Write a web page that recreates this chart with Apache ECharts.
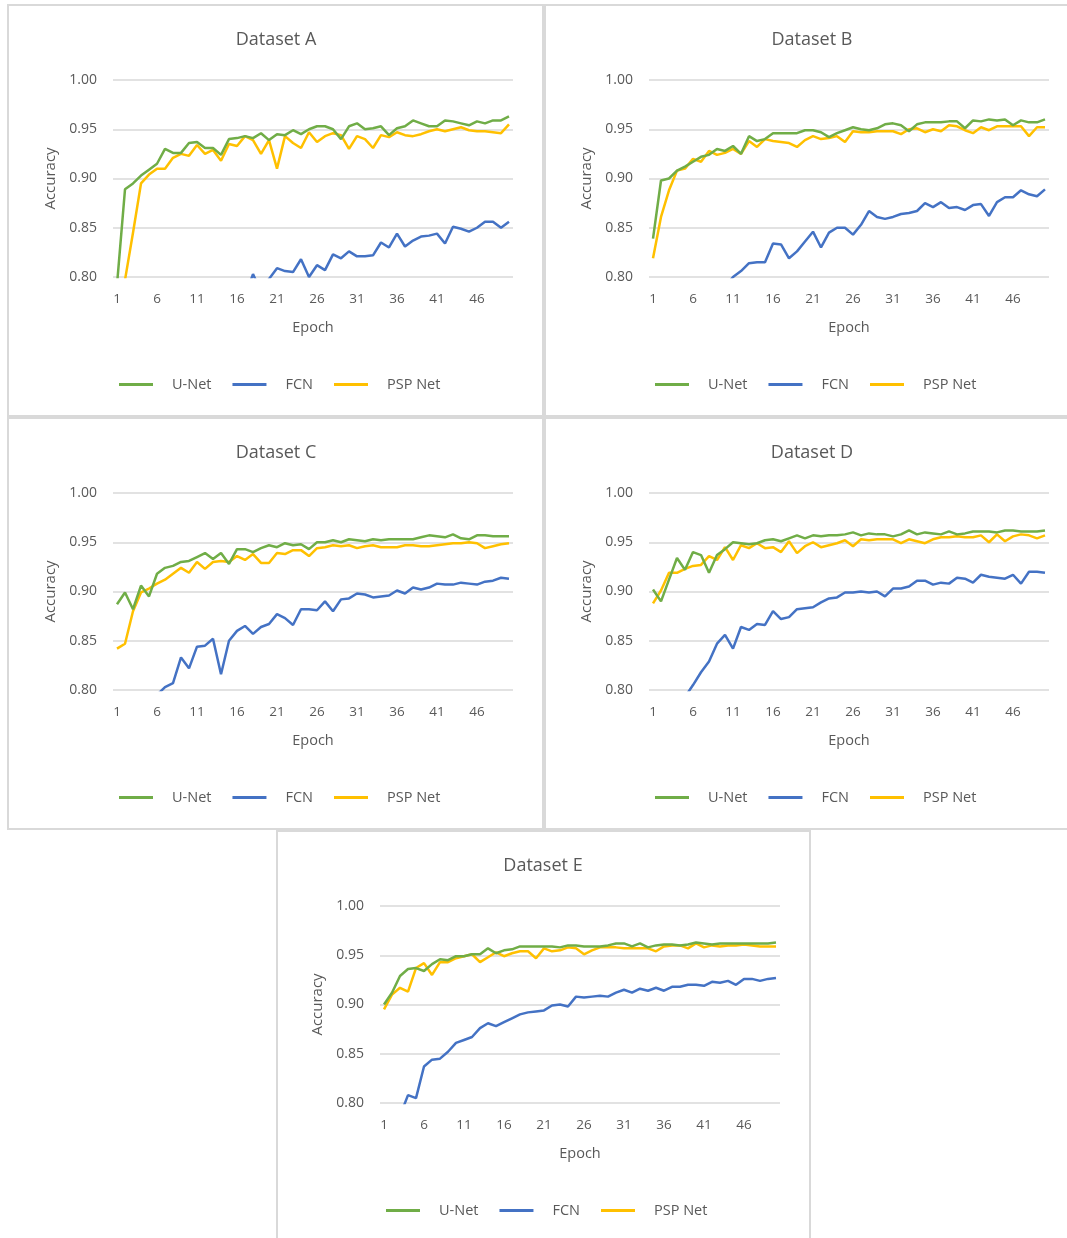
<!DOCTYPE html>
<html>
<head>
<meta charset="utf-8">
<script src="https://cdn.jsdelivr.net/npm/echarts@6/dist/echarts.min.js"></script>
<style>
html,body{margin:0;padding:0;background:#fff;}
#c{width:1067px;height:1238px;}
</style>
</head>
<body>
<div id="c"></div>
<script>
const epochs = ['1','2','3','4','5','6','7','8','9','10','11','12','13','14','15','16','17','18','19','20','21','22','23','24','25','26','27','28','29','30','31','32','33','34','35','36','37','38','39','40','41','42','43','44','45','46','47','48','49','50'];
const seriesNames = ['U-Net','FCN','PSP Net'];
const panelTitles = ['Dataset A','Dataset B','Dataset C','Dataset D','Dataset E'];
const yTicks = [0.80,0.85,0.90,0.95,1.00];

// Dataset A
const unetA = [0.792,0.889,0.895,0.903,0.909,0.915,0.930,0.926,0.926,0.936,0.937,0.931,0.931,0.924,0.940,0.941,0.943,0.941,0.946,0.939,0.945,0.944,0.949,0.945,0.950,0.953,0.953,0.950,0.940,0.953,0.956,0.950,0.951,0.953,0.944,0.951,0.953,0.959,0.956,0.953,0.953,0.959,0.958,0.956,0.954,0.958,0.956,0.959,0.959,0.963];
const fcnA = [null,null,null,null,null,null,null,null,null,null,null,null,null,null,null,null,0.780,0.803,0.785,0.798,0.809,0.806,0.805,0.818,0.800,0.812,0.807,0.823,0.819,0.826,0.821,0.821,0.822,0.835,0.830,0.844,0.831,0.837,0.841,0.842,0.844,0.834,0.851,0.849,0.846,0.850,0.856,0.856,0.850,0.856];
const pspA = [null,0.797,0.845,0.895,0.904,0.910,0.910,0.921,0.925,0.923,0.934,0.925,0.929,0.918,0.935,0.933,0.943,0.939,0.925,0.939,0.910,0.943,0.936,0.931,0.947,0.937,0.943,0.946,0.944,0.930,0.943,0.940,0.931,0.944,0.942,0.947,0.944,0.943,0.945,0.948,0.950,0.948,0.950,0.952,0.949,0.948,0.948,0.947,0.946,0.955];

// Dataset B
const unetB = [0.839,0.898,0.900,0.908,0.912,0.917,0.922,0.924,0.930,0.928,0.933,0.925,0.943,0.938,0.940,0.946,0.946,0.946,0.946,0.949,0.949,0.947,0.942,0.946,0.949,0.952,0.950,0.949,0.951,0.955,0.956,0.954,0.948,0.955,0.957,0.957,0.957,0.958,0.958,0.951,0.959,0.958,0.960,0.959,0.960,0.954,0.959,0.957,0.957,0.960];
const fcnB = [null,null,null,null,null,null,null,null,null,0.790,0.800,0.806,0.814,0.815,0.815,0.834,0.833,0.819,0.826,0.836,0.846,0.830,0.845,0.850,0.850,0.843,0.853,0.867,0.861,0.859,0.861,0.864,0.865,0.867,0.875,0.871,0.876,0.870,0.871,0.868,0.873,0.874,0.862,0.876,0.881,0.881,0.888,0.884,0.882,0.889];
const pspB = [0.819,0.861,0.888,0.908,0.910,0.920,0.917,0.928,0.924,0.926,0.930,0.925,0.938,0.932,0.940,0.938,0.937,0.936,0.932,0.939,0.943,0.940,0.941,0.943,0.937,0.948,0.947,0.947,0.948,0.948,0.948,0.945,0.950,0.951,0.947,0.950,0.948,0.954,0.953,0.949,0.946,0.952,0.949,0.953,0.953,0.953,0.953,0.943,0.952,0.952];

// Dataset C
const unetC = [0.887,0.899,0.882,0.906,0.895,0.918,0.924,0.926,0.930,0.931,0.935,0.939,0.933,0.939,0.928,0.943,0.943,0.940,0.944,0.947,0.945,0.949,0.947,0.948,0.943,0.950,0.950,0.952,0.950,0.953,0.952,0.951,0.953,0.952,0.953,0.953,0.953,0.953,0.955,0.957,0.956,0.955,0.958,0.954,0.953,0.957,0.957,0.956,0.956,0.956];
const fcnC = [null,null,null,null,null,0.795,0.803,0.807,0.833,0.822,0.844,0.845,0.852,0.816,0.850,0.860,0.865,0.857,0.864,0.867,0.877,0.873,0.866,0.882,0.882,0.881,0.890,0.880,0.892,0.893,0.898,0.897,0.894,0.895,0.896,0.901,0.898,0.904,0.902,0.904,0.908,0.907,0.907,0.909,0.908,0.907,0.910,0.911,0.914,0.913];
const pspC = [0.842,0.847,0.880,0.899,0.903,0.908,0.912,0.918,0.924,0.919,0.930,0.923,0.930,0.931,0.930,0.936,0.932,0.938,0.929,0.929,0.939,0.938,0.942,0.942,0.936,0.944,0.945,0.947,0.946,0.947,0.944,0.946,0.947,0.945,0.945,0.945,0.947,0.947,0.946,0.946,0.947,0.948,0.949,0.949,0.950,0.949,0.944,0.946,0.948,0.949];

// Dataset D
const unetD = [0.902,0.890,0.912,0.934,0.922,0.940,0.937,0.919,0.937,0.943,0.950,0.949,0.948,0.949,0.952,0.953,0.951,0.954,0.957,0.954,0.957,0.956,0.957,0.957,0.958,0.960,0.957,0.959,0.958,0.958,0.956,0.958,0.962,0.958,0.960,0.959,0.958,0.961,0.958,0.959,0.961,0.961,0.961,0.960,0.962,0.962,0.961,0.961,0.961,0.962];
const fcnD = [null,null,null,null,0.793,0.805,0.818,0.829,0.847,0.856,0.842,0.864,0.861,0.867,0.866,0.880,0.872,0.874,0.882,0.883,0.884,0.889,0.893,0.894,0.899,0.899,0.900,0.899,0.900,0.895,0.903,0.903,0.905,0.911,0.911,0.907,0.909,0.908,0.914,0.913,0.909,0.917,0.915,0.914,0.913,0.917,0.908,0.920,0.920,0.919];
const pspD = [0.888,0.901,0.919,0.919,0.923,0.926,0.927,0.936,0.932,0.945,0.932,0.947,0.944,0.949,0.944,0.945,0.940,0.951,0.939,0.946,0.950,0.945,0.947,0.949,0.952,0.946,0.953,0.952,0.953,0.953,0.953,0.949,0.953,0.951,0.949,0.953,0.955,0.955,0.956,0.955,0.955,0.957,0.950,0.958,0.951,0.956,0.958,0.957,0.954,0.957];

// Dataset E
const unetE = [0.900,0.912,0.929,0.936,0.937,0.934,0.941,0.946,0.945,0.949,0.949,0.951,0.951,0.957,0.952,0.955,0.956,0.959,0.959,0.959,0.959,0.959,0.958,0.960,0.960,0.959,0.959,0.959,0.960,0.962,0.962,0.959,0.962,0.958,0.960,0.961,0.961,0.960,0.961,0.963,0.962,0.961,0.962,0.962,0.962,0.962,0.962,0.962,0.962,0.963];
const fcnE = [null,null,0.787,0.808,0.805,0.837,0.844,0.845,0.852,0.861,0.864,0.867,0.876,0.881,0.878,0.882,0.886,0.890,0.892,0.893,0.894,0.899,0.900,0.898,0.908,0.907,0.908,0.909,0.908,0.912,0.915,0.912,0.916,0.914,0.917,0.914,0.918,0.918,0.920,0.920,0.919,0.923,0.922,0.924,0.920,0.926,0.926,0.924,0.926,0.927];
const pspE = [0.895,0.910,0.917,0.913,0.937,0.942,0.930,0.943,0.943,0.947,0.949,0.951,0.943,0.948,0.953,0.949,0.952,0.954,0.954,0.947,0.957,0.954,0.955,0.958,0.957,0.951,0.955,0.958,0.958,0.958,0.957,0.957,0.957,0.957,0.954,0.959,0.960,0.960,0.957,0.962,0.958,0.960,0.959,0.960,0.960,0.961,0.960,0.959,0.959,0.959];

const panelData = [
  [unetA, fcnA, pspA],
  [unetB, fcnB, pspB],
  [unetC, fcnC, pspC],
  [unetD, fcnD, pspD],
  [unetE, fcnE, pspE]
];

const colors = ['#70AD47', '#4472C4', '#FFC000'];
const txt = '#595959';
const font = 'Open Sans';

const layout = [
  {gl:113, gt:80,  bx:8,   by:5,   bw:535, bh:411},
  {gl:649, gt:80,  bx:545, by:5,   bw:530, bh:411},
  {gl:113, gt:493, bx:8,   by:418, bw:535, bh:411},
  {gl:649, gt:493, bx:545, by:418, bw:530, bh:411},
  {gl:380, gt:906, bx:277, by:831, bw:533, bh:415}
];
const GW = 400, GH = 197;

const grids = [], xAxes = [], yAxes = [], series = [], legends = [], graphics = [];
layout.forEach((L, i) => {
  graphics.push({type:'rect', shape:{x:L.bx, y:L.by, width:L.bw, height:L.bh},
    style:{fill:'#fff', stroke:'#d9d9d9', lineWidth:2}, z:-10});
  graphics.push({type:'text', x:L.gl + GW/2 - 37, y:L.gt - 40, z:10,
    style:{text:panelTitles[i], fill:txt, font:'18px "Open Sans"', textAlign:'center', textVerticalAlign:'middle'}});
  grids.push({left:L.gl, top:L.gt, width:GW, height:GH});
  xAxes.push({type:'category', gridIndex:i, data:epochs, boundaryGap:true,
    name:'Epoch', nameLocation:'middle', nameGap:43,
    nameTextStyle:{color:txt, fontFamily:font, fontSize:14.5},
    axisLine:{show:false}, axisTick:{show:false},
    axisLabel:{interval:4, color:txt, fontFamily:font, fontSize:13.5, margin:15},
    splitLine:{show:false}});
  yAxes.push({type:'value', gridIndex:i, min:0.8, max:1.0, interval:0.05,
    name:'Accuracy', nameLocation:'middle', nameGap:55, nameRotate:90,
    nameTextStyle:{color:txt, fontFamily:font, fontSize:15},
    axisLine:{show:false}, axisTick:{show:false},
    axisLabel:{color:txt, fontFamily:font, fontSize:14, margin:16, formatter:v=>v.toFixed(2)},
    splitLine:{lineStyle:{color:'#d9d9d9', width:1.5}}});
  legends.push({data:seriesNames, left:L.gl + 1, top:L.gt + 292, orient:'horizontal',
    icon:'rect', itemWidth:34, itemHeight:3, itemGap:21,
    textStyle:{color:txt, fontFamily:font, fontSize:14.5, padding:[0,0,0,14]}});
  seriesNames.forEach((n, k) => {
    series.push({type:'line', name:n, xAxisIndex:i, yAxisIndex:i, data:panelData[i][k],
      symbol:'none', smooth:false, clip:true, color:colors[k],
      lineStyle:{width:2.5, color:colors[k]}, z: k===1?2:(k===0?4:3)});
  });
});

const chart = echarts.init(document.getElementById('c'), null, {renderer:'canvas'});
chart.setOption({
  animation:false,
  backgroundColor:'#fff',
  legend:legends, grid:grids, xAxis:xAxes, yAxis:yAxes, series:series,
  graphic:graphics
});
</script>
</body>
</html>
